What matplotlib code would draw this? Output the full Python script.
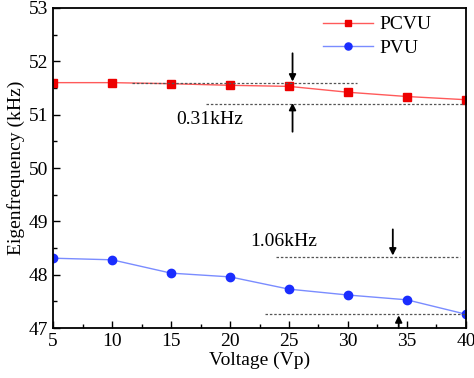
import matplotlib
matplotlib.use("Agg")
import matplotlib.pyplot as plt
from matplotlib.ticker import MultipleLocator

plt.rcParams['font.family'] = ['Liberation Serif', 'DejaVu Serif']
plt.rcParams['mathtext.fontset'] = 'stix'

voltage = [5, 10, 15, 20, 25, 30, 35, 40]
pcvu = [51.60, 51.60, 51.58, 51.55, 51.53, 51.42, 51.34, 51.28]
pvu = [48.31, 48.28, 48.03, 47.96, 47.73, 47.62, 47.53, 47.26]

fig = plt.figure(figsize=(4.74, 3.78), dpi=100)
ax = fig.add_axes([0.112, 0.132, 0.871, 0.847])

ax.plot(voltage, pcvu, color='#ff5a5a', lw=1, marker='s', ms=5.5,
        mfc='#ee0000', mec='#ee0000', label='PCVU')
ax.plot(voltage, pvu, color='#7a8cff', lw=1, marker='o', ms=6,
        mfc='#1a2dff', mec='#1a2dff', label='PVU')

# annotation lines
ax.plot([11.7, 30.8], [51.60, 51.60], ls=(0, (2, 1.5)), color='#555555', lw=0.9)
ax.plot([18.0, 40.0], [51.20, 51.20], ls=(0, (2, 1.5)), color='#555555', lw=0.9)
ax.plot([23.9, 39.5], [48.33, 48.33], ls=(0, (2, 1.5)), color='#555555', lw=0.9)
ax.plot([23.0, 40.0], [47.26, 47.26], ls=(0, (2, 1.5)), color='#555555', lw=0.9)

arrow = dict(arrowstyle='-|>', color='black', lw=1.3, mutation_scale=10,
             shrinkA=0, shrinkB=0)
ax.annotate('', xy=(25.3, 51.62), xytext=(25.3, 52.15), arrowprops=arrow)
ax.annotate('', xy=(25.3, 51.22), xytext=(25.3, 50.68), arrowprops=arrow)
ax.annotate('', xy=(33.8, 48.36), xytext=(33.8, 48.85), arrowprops=arrow)
ax.annotate('', xy=(34.3, 47.24), xytext=(34.3, 47.0), arrowprops=arrow)

ax.text(15.4, 50.90, '0.31kHz', fontsize=14, ha='left', va='center')
ax.text(21.7, 48.62, '1.06kHz', fontsize=14, ha='left', va='center')

ax.set_xlim(5, 40)
ax.set_ylim(47, 53)
ax.xaxis.set_major_locator(MultipleLocator(5))
ax.xaxis.set_minor_locator(MultipleLocator(2.5))
ax.yaxis.set_major_locator(MultipleLocator(1))
ax.yaxis.set_minor_locator(MultipleLocator(0.5))
ax.tick_params(which='both', direction='in', top=False, right=False, labelsize=14, width=1)
ax.tick_params(which='major', length=5)
ax.tick_params(which='minor', length=3)
for s in ax.spines.values():
    s.set_linewidth(1.3)

ax.set_xlabel('Voltage (Vp)', fontsize=14, labelpad=1)
ax.set_ylabel('Eigenfrequency (kHz)', fontsize=14, labelpad=3)

ax.legend(loc='upper right', frameon=False, fontsize=14, handlelength=2.6,
          handletextpad=0.3, markerscale=0.85,
          borderaxespad=0.0, labelspacing=0.3, bbox_to_anchor=(0.935, 1.0))

fig.savefig('out.png', dpi=100)
